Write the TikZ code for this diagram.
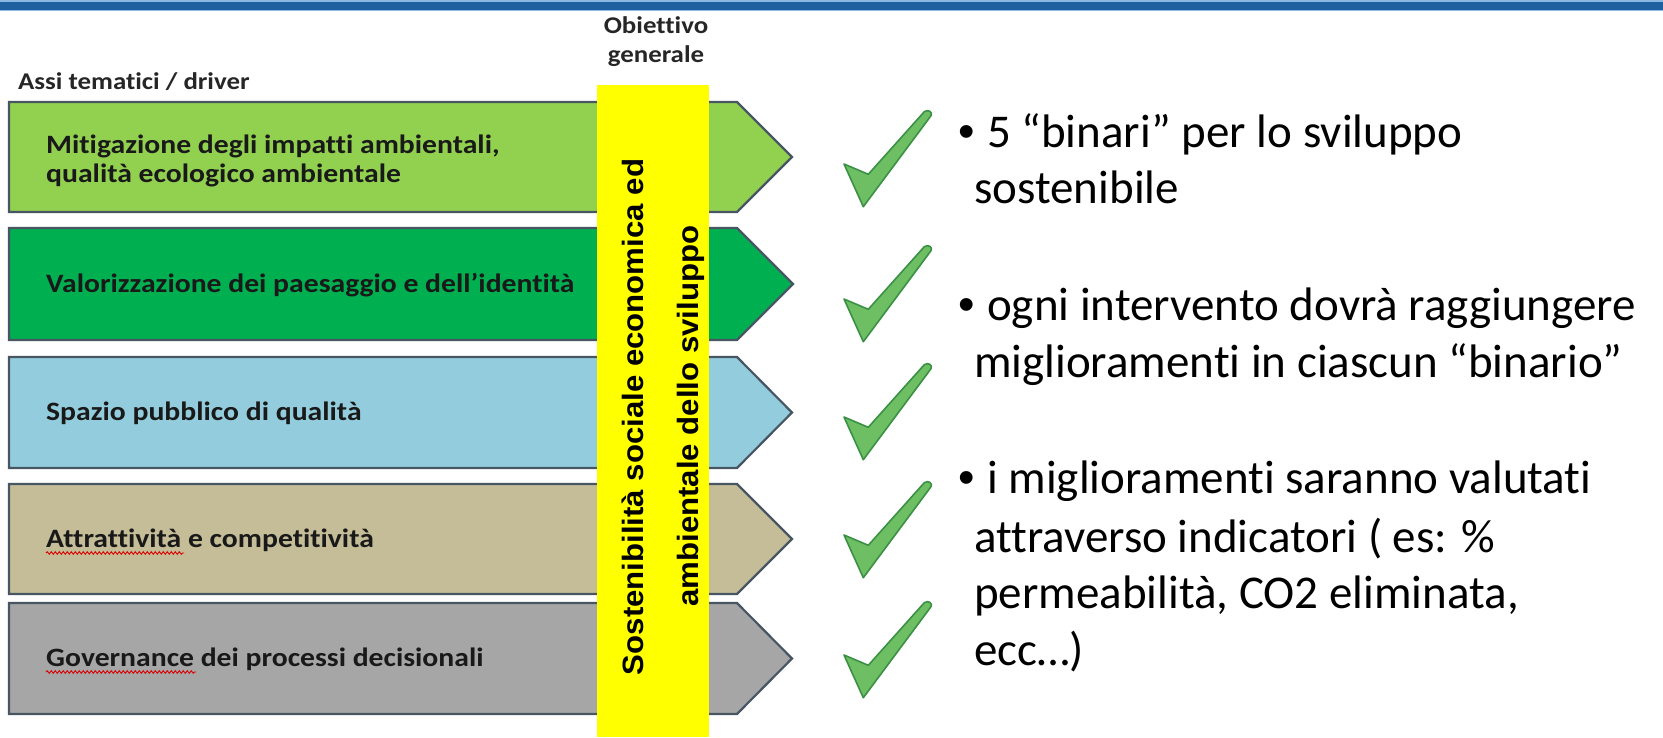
\documentclass[tikz,border=0pt]{standalone}
\usepackage{fontspec}
\setmainfont[Ligatures=NoCommon]{Carlito}
\newfontfamily\labfont[FakeStretch=1.12,Ligatures=NoCommon]{Carlito}
\newfontfamily\arialfont{Liberation Sans}
\newfontfamily\arialwide[FakeStretch=1.06]{Liberation Sans}
\usetikzlibrary{decorations.pathmorphing}
\definecolor{cA}{RGB}{146,208,80}
\definecolor{cB}{RGB}{0,176,80}
\definecolor{cC}{RGB}{147,205,221}
\definecolor{cD}{RGB}{196,189,151}
\definecolor{cE}{RGB}{166,166,166}
\definecolor{bordc}{RGB}{72,86,100}
\definecolor{chkfill}{RGB}{110,190,100}
\definecolor{chkdraw}{RGB}{58,145,68}
\definecolor{topblue}{RGB}{31,96,160}
\definecolor{toplight}{RGB}{140,185,225}
\definecolor{barYellow}{RGB}{255,255,0}
\newcommand{\bul}{\makebox[29pt][l]{{\arialfont •}}}
\tikzset{
  arrowshape/.style={draw=bordc, line width=2.2pt, line join=miter},
  lab/.style={inner sep=0pt, anchor=base west, font=\labfont\bfseries\fontsize{26.5}{29}\selectfont, text=black!90},
  hdr/.style={inner sep=0pt, anchor=base, font=\labfont\bfseries\fontsize{24}{28}\selectfont, text=black!85},
  rtxt/.style={inner sep=0pt, anchor=base west, font=\fontsize{47}{57}\selectfont},
  vtxt/.style={inner sep=0pt, anchor=base, rotate=90, text=black, font=\arialwide\bfseries\fontsize{29.4}{34}\selectfont},
  spell/.style={draw=red!85!black, line width=0.9pt, decorate, decoration={snake, amplitude=1.3pt, segment length=4pt}},
  checkmark/.pic={
    \draw[fill=chkfill, draw=chkdraw, line width=1.6pt, line join=round]
      (0,0) -- (24.3,10.3) -- (80.3,-52.3) .. controls (84,-55) and (89,-52) .. (87,-48.3) -- (19.3,42.7) -- cycle;
  }
}
\begin{document}
\begin{tikzpicture}[x=1pt,y=-1pt]
\useasboundingbox (0,0) rectangle (1663,737);
\fill[white] (0,0) rectangle (1663,737);
% top rule
\fill[toplight] (0,0) rectangle (1663,11);
\fill[topblue] (0,2) rectangle (1663,9.5);

% arrows
\draw[arrowshape, fill=cA] (9,102) -- (737,102) -- (792,157) -- (737,212) -- (9,212) -- cycle;
\draw[arrowshape, fill=cB] (9,228) -- (737,228) -- (793,284) -- (737,340) -- (9,340) -- cycle;
\draw[arrowshape, fill=cC] (9,357) -- (737,357) -- (792,412.5) -- (737,468) -- (9,468) -- cycle;
\draw[arrowshape, fill=cD] (9,484) -- (737,484) -- (792,539) -- (737,594) -- (9,594) -- cycle;
\draw[arrowshape, fill=cE] (9,603) -- (737,603) -- (792,658.5) -- (737,714) -- (9,714) -- cycle;

% yellow bar
\path[fill=barYellow] (597,85) rectangle (709,737);

% headers
\node[hdr] (obj1) at (656,33) {Obiettivo};
\node[hdr] (obj2) at (656,62) {generale};
\node[hdr, anchor=base west] (assi) at (18,89) {Assi tematici / driver};

% arrow labels
\node[lab] (l1a) at (46,153) {Mitigazione degli impatti ambientali,};
\node[lab] (l1b) at (46,182) {qualità ecologico ambientale};
\node[lab] (l2) at (46,292) {Valorizzazione dei paesaggio e dell’identità};
\node[lab] (l3) at (46,420) {Spazio pubblico di qualità};
\node[lab] (l4) at (46,547) {Attrattività e competitività};
\node[lab] (l5) at (46,666) {Governance dei processi decisionali};
\coordinate (w4a) at (46,553);
\coordinate (w4b) at (184,553);
\coordinate (w5a) at (46,672);
\coordinate (w5b) at (196,672);
\draw[spell] (w4a) -- (w4b);
\draw[spell] (w5a) -- (w5b);

% vertical text
\node[vtxt] (v1) at (643,417) {Sostenibilità sociale economica ed};
\node[vtxt] (v2) at (698,416) {ambientale dello sviluppo};

% checkmarks
\pic at (844,164) {checkmark};
\pic at (844,299) {checkmark};
\pic at (844,417) {checkmark};
\pic at (844,535) {checkmark};
\pic at (844,655) {checkmark};

% right text
\node[rtxt] (p1a) at (958,147) {\bul 5 “binari” per lo sviluppo};
\node[rtxt] (p1b) at (974,203) {sostenibile};
\node[rtxt] (p2a) at (958,320) {\bul ogni intervento dovrà raggiungere};
\node[rtxt] (p2b) at (974,377) {miglioramenti in ciascun “binario”};
\node[rtxt] (p3a) at (958,493) {\bul i miglioramenti saranno valutati};
\node[rtxt] (p3b) at (974,552) {attraverso indicatori ( es: \%};
\node[rtxt] (p3c) at (974,608) {permeabilità, CO2 eliminata,};
\node[rtxt] (p3d) at (974,665) {ecc…)};
\end{tikzpicture}
\end{document}
